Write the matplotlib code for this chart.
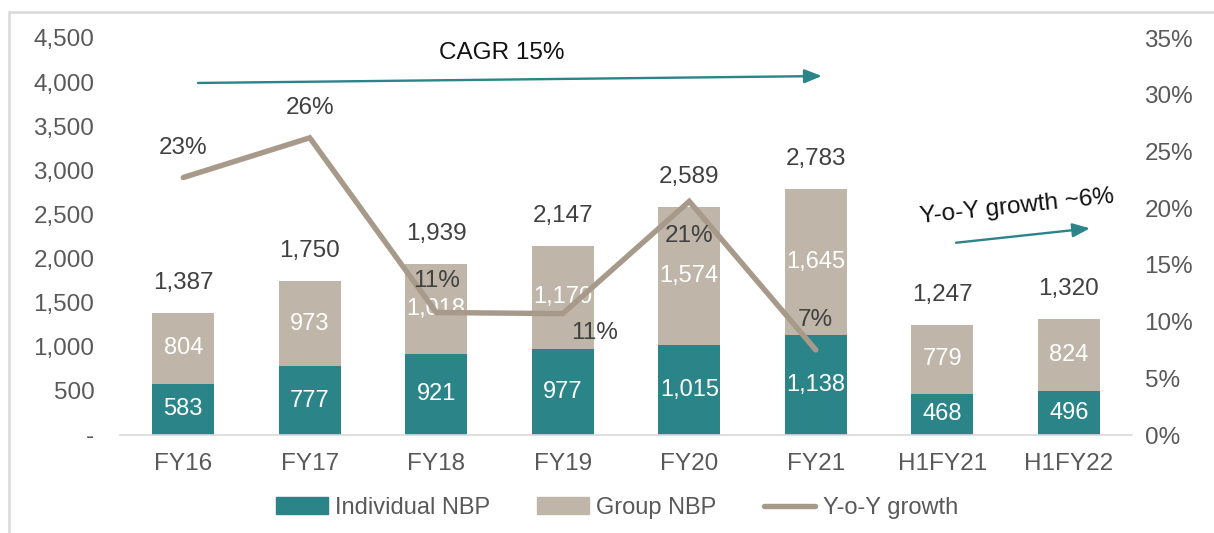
import matplotlib
matplotlib.use("Agg")
import matplotlib.pyplot as plt
from matplotlib.patches import Rectangle
from matplotlib.lines import Line2D
from matplotlib.patches import Patch

plt.rcParams['font.family'] = ['Liberation Sans', 'DejaVu Sans']

categories = ["FY16", "FY17", "FY18", "FY19", "FY20", "FY21", "H1FY21", "H1FY22"]
individual = [583, 777, 921, 977, 1015, 1138, 468, 496]
group = [804, 973, 1018, 1170, 1574, 1645, 779, 824]
totals = [1387, 1750, 1939, 2147, 2589, 2783, 1247, 1320]
growth = [22.7, 26.2, 10.8, 10.7, 20.6, 7.5]
growth_labels = ["23%", "26%", "11%", "11%", "21%", "7%"]
growth_offsets = [(0, 30), (0, 30), (0, 31), (32, -19), (0, -35), (0, 30)]

teal = "#2A8488"
beige = "#BFB6A9"
line_c = "#A79A8A"
txt = "#404040"
tick_c = "#595959"
fs = 17.5

fig = plt.figure(figsize=(12.14, 5.33), dpi=100)
fig.patches.append(Rectangle((9/1214, -0.2), 1.2, 1.2 - 12/533, transform=fig.transFigure,
                             fill=False, edgecolor="#D9D9D9", linewidth=1.8))
ax = fig.add_axes([120/1214, 1-435/533, 1012/1214, 397/533])
ax2 = ax.twinx()

x = list(range(len(categories)))
w = 0.49
ax.bar(x, individual, w, color=teal, zorder=2)
ax.bar(x, group, w, bottom=individual, color=beige, zorder=2)

for i in x:
    ax.text(i, individual[i]/2, f"{individual[i]:,}", color="white", ha="center", va="center",
            fontsize=17, zorder=5)
    ax.text(i, individual[i] + group[i]/2, f"{group[i]:,}", color="white", ha="center", va="center",
            fontsize=17, zorder=5)
    ax.annotate(f"{totals[i]:,}", (i, totals[i]), xytext=(0, 30), textcoords="offset pixels",
                ha="center", va="center", fontsize=fs, color=txt)

ax.set_xlim(-0.5, 7.5)
ax.set_ylim(0, 4500)
ax.set_yticks(range(0, 4501, 500))
ax.set_yticklabels(["-"] + [f"{v:,}" for v in range(500, 4501, 500)])
ax.set_xticks(x)
ax.set_xticklabels(categories)
ax.tick_params(axis="y", length=0, pad=18.5, labelsize=fs, labelcolor=tick_c)
ax.tick_params(axis="x", length=0, pad=13, labelsize=fs, labelcolor=tick_c)
for s in ["top", "left", "right"]:
    ax.spines[s].set_visible(False)
ax.spines["bottom"].set_color("#D9D9D9")
ax.spines["bottom"].set_linewidth(1.2)

ax2.plot(x[:len(growth)], growth, color=line_c, linewidth=3.9, zorder=4, solid_capstyle="round",
         solid_joinstyle="miter")
for i, (g, lab) in enumerate(zip(growth, growth_labels)):
    ax2.annotate(lab, (i, g), xytext=growth_offsets[i], textcoords="offset pixels",
                 ha="center", va="center", fontsize=fs, color=txt, zorder=6)
ax2.set_ylim(0, 35)
ax2.set_yticks(range(0, 36, 5))
ax2.set_yticklabels([f"{v}%" for v in range(0, 36, 5)])
ax2.tick_params(axis="y", length=0, pad=9, labelsize=fs, labelcolor=tick_c)
for s in ax2.spines.values():
    s.set_visible(False)
ax2.set_zorder(ax.get_zorder() + 1)
ax2.patch.set_visible(False)

arrow_style = "-|>,head_length=1.05,head_width=0.42"
# CAGR arrow
ax.annotate("", xy=(5.07, 4069), xytext=(0.095, 3990),
            arrowprops=dict(arrowstyle=arrow_style, color=teal, lw=1.7))
ax.text(2.516, 4330, "CAGR 15%", ha="center", va="center", fontsize=fs, color="#111111")

# Y-o-Y arrow
ax.annotate("", xy=(7.19, 2346), xytext=(6.087, 2176),
            arrowprops=dict(arrowstyle=arrow_style, color=teal, lw=1.7))
ax.text(6.59, 2590, "Y-o-Y growth ~6%", ha="center", va="center", fontsize=fs,
        color="#111111", rotation=6)

handles = [Patch(color=teal, label="Individual NBP"),
           Patch(color=beige, label="Group NBP"),
           Line2D([0], [0], color=line_c, lw=3.9, label="Y-o-Y growth", solid_capstyle="round")]
fig.legend(handles=handles, loc="center", bbox_to_anchor=(0.508, 1-508/533), ncol=3,
           frameon=False, fontsize=17, labelcolor=tick_c, handlelength=2.2, handleheight=0.7,
           columnspacing=2.0, handletextpad=0.3)

fig.savefig("out.png", dpi=100)
